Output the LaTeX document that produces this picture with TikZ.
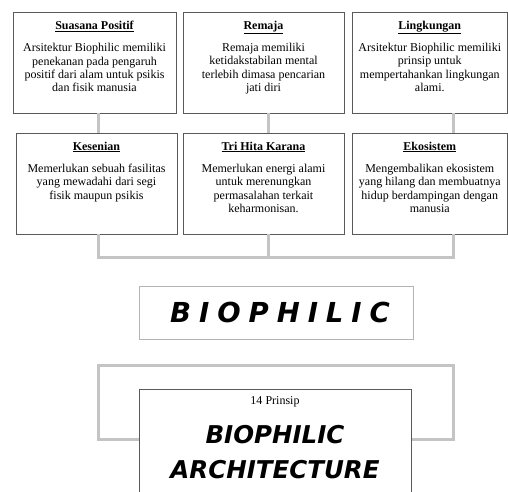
\documentclass[tikz,border=0pt]{standalone}
\usepackage{fontspec}
\setmainfont{Liberation Serif}
\newfontface\bigsans{DejaVu Sans Bold Oblique}
\newfontface\spacedsans{DejaVu Sans Bold Oblique}[LetterSpace=29]
\usetikzlibrary{positioning}
\definecolor{linkgray}{HTML}{C4C4C4}
\definecolor{boxgray}{HTML}{5A5A5A}
\definecolor{framegray}{HTML}{B4B4B4}

\begin{document}
\begin{tikzpicture}[x=1pt, y=-1pt,
  card/.style={draw=boxgray, line width=0.8pt, fill=white, minimum height=101pt, inner sep=0pt},
  cardtext/.style={align=center, font=\fontsize{12}{13.4}\selectfont, inner sep=0pt},
  link/.style={draw=linkgray, line width=3pt}]
\useasboundingbox (0,0) rectangle (508,491);
\clip (0,0) rectangle (508,491);

% 第一行 - 3个方框
\node[card, minimum width=163pt] (b1) at (94.5, 62.5) {};
\node[card, minimum width=161pt] (b2) at (263.5, 62.5) {};
\node[card, minimum width=155.5pt] (b3) at (429.75, 62.5) {};

% 第二行 - 3个方框
\node[card, minimum width=161pt] (b4) at (96.5, 183.5) {};
\node[card, minimum width=161pt] (b5) at (263.5, 183.5) {};
\node[card, minimum width=155.5pt] (b6) at (429.75, 183.5) {};

% 方框内文字
\node[cardtext, below=9pt of b1.north] (t1) {\underline{\textbf{Suasana Positif}}\\[9pt]
  Arsitektur Biophilic memiliki\\ penekanan pada pengaruh\\ positif dari alam untuk psikis\\ dan fisik manusia};
\node[cardtext, below=9pt of b2.north] (t2) {\underline{\textbf{Remaja}}\\[9pt]
  Remaja memiliki\\ ketidakstabilan mental\\ terlebih dimasa pencarian\\ jati diri};
\node[cardtext, below=9pt of b3.north] (t3) {\underline{\textbf{Lingkungan}}\\[9pt]
  Arsitektur Biophilic memiliki\\ prinsip untuk\\ mempertahankan lingkungan\\ alami.};
\node[cardtext, below=9pt of b4.north] (t4) {\underline{\textbf{Kesenian}}\\[9pt]
  Memerlukan sebuah fasilitas\\ yang mewadahi dari segi\\ fisik maupun psikis};
\node[cardtext, below=9pt of b5.north] (t5) {\underline{\textbf{Tri Hita Karana}}\\[9pt]
  Memerlukan energi alami\\ untuk merenungkan\\ permasalahan terkait\\ keharmonisan.};
\node[cardtext, below=9pt of b6.north] (t6) {\underline{\textbf{Ekosistem}}\\[9pt]
  Mengembalikan ekosistem\\ yang hilang dan membuatnya\\ hidup berdampingan dengan\\ manusia};

% 连接线
\coordinate (j1) at (98, 257);
\coordinate (j2) at (268, 257);
\coordinate (j3) at (453, 257);
\draw[link] (j1 |- b1.south) -- (j1 |- b4.north);
\draw[link] (j2 |- b2.south) -- (j2 |- b5.north);
\draw[link] (j3 |- b3.south) -- (j3 |- b6.north);
\draw[link] (j1 |- b4.south) -- (j1) -- (j3) -- (j3 |- b6.south);
\draw[link] (j2 |- b5.south) -- (j2);

% 中间标题
\node[draw=framegray, line width=0.8pt, minimum width=274pt, minimum height=53pt] (bio) at (276, 312.5)
  {\hspace*{8pt}\spacedsans\fontsize{27.5}{27.5}\selectfont BIOPHILIC};

% 底部框
\node[link, minimum width=355pt, minimum height=74pt] (frame) at (275.5, 402) {};
\node[draw=boxgray, fill=white, line width=0.8pt, minimum width=272pt, minimum height=115pt, anchor=north] (main) at (275, 389) {};
\node[font=\fontsize{12}{13}\selectfont] (prinsip) at (275, 402) {14 Prinsip};
\node[font=\bigsans\fontsize{24.5}{35}\selectfont, align=center] (judul) at (275, 452.5) {BIOPHILIC\\ARCHITECTURE};
\end{tikzpicture}
\end{document}
